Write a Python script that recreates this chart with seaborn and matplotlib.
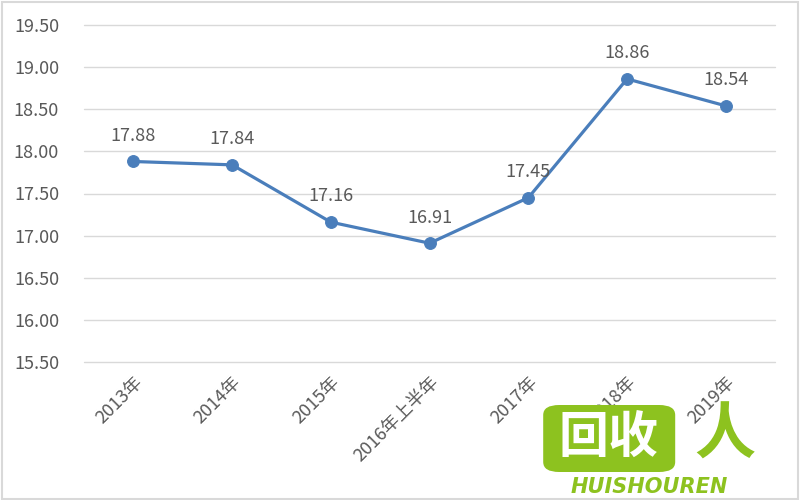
import matplotlib
matplotlib.use("Agg")
import matplotlib.pyplot as plt
import seaborn as sns
import pandas as pd
from matplotlib.patches import FancyBboxPatch, Rectangle

# -------------------------
# Data
# -------------------------
categories = ["2013年", "2014年", "2015年", "2016年上半年", "2017年", "2018年", "2019年"]
values = [17.88, 17.84, 17.16, 16.91, 17.45, 18.86, 18.54]
y_ticks = [15.50, 16.00, 16.50, 17.00, 17.50, 18.00, 18.50, 19.00, 19.50]

df = pd.DataFrame({"year": categories, "value": values})

# -------------------------
# Style
# -------------------------
sns.set_style("white")
plt.rcParams["font.family"] = ["Noto Sans CJK SC", "DejaVu Sans"]

line_color = "#4a7ebb"
text_color = "#595959"

fig = plt.figure(figsize=(8, 5), dpi=100)
ax = fig.add_axes([0.105, 0.276, 0.864, 0.674])

# gridlines (drawn unclipped so the edge lines show)
for t in y_ticks:
    ax.axhline(t, color="#d9d9d9", linewidth=1, clip_on=False, zorder=0)

sns.lineplot(
    data=df,
    x="year",
    y="value",
    color=line_color,
    linewidth=2.3,
    marker="o",
    markersize=8.5,
    markeredgecolor=line_color,
    sort=False,
    ax=ax
)

for i, v in enumerate(values):
    ax.annotate(
        f"{v:.2f}",
        (i, v),
        xytext=(0, 12),
        textcoords="offset points",
        ha="center",
        va="bottom",
        fontsize=13,
        color=text_color
    )

ax.set_xlim(-0.5, len(categories) - 0.5)
ax.set_ylim(15.50, 19.50)
ax.set_yticks(y_ticks)
ax.set_yticklabels([f"{t:.2f}" for t in y_ticks], fontsize=13, color=text_color)
ax.set_xticks(range(len(categories)))
ax.set_xticklabels(categories, rotation=45, ha="right", rotation_mode="anchor",
                   fontsize=13, color=text_color)

for s in ax.spines.values():
    s.set_visible(False)
ax.tick_params(axis="y", length=0, pad=18)
ax.tick_params(axis="x", length=0, pad=8)
ax.set_xlabel("")
ax.set_ylabel("")

# figure border
fig.patches.append(Rectangle((0.002, 0.003), 0.996, 0.994, transform=fig.transFigure,
                             fill=False, edgecolor="#d9d9d9", linewidth=1.5))

# watermark logo
green = "#8dc21f"
fig.patches.append(FancyBboxPatch((0.679, 0.056), 0.165, 0.134, transform=fig.transFigure,
                                  boxstyle="round,pad=0.0,rounding_size=0.02",
                                  facecolor=green, edgecolor="none", zorder=10))
fig.text(0.761, 0.124, "回收", ha="center", va="center", fontsize=36,
         fontweight="bold", color="white", zorder=11)
fig.text(0.811, 0.026, "HUISHOUREN", ha="center", va="center", fontsize=15,
         fontweight="bold", fontstyle="italic", color=green, family="DejaVu Sans", zorder=11)
fig.text(0.906, 0.128, "人", ha="center", va="center", fontsize=44,
         fontweight="bold", color=green, zorder=11)

plt.savefig("out.png", dpi=100)
plt.close()
